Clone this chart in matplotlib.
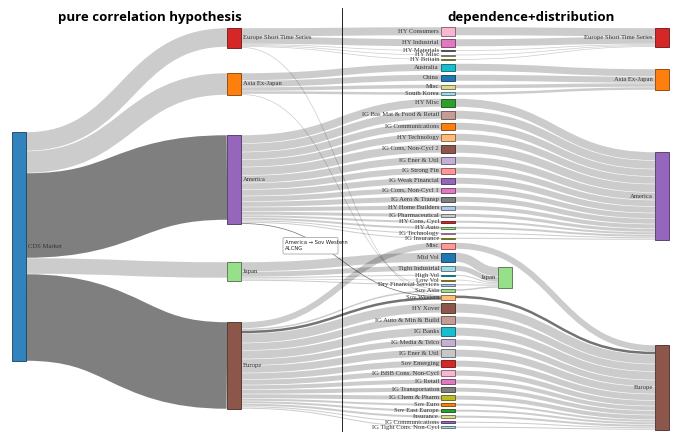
import numpy as np
import matplotlib
matplotlib.use("Agg")
import matplotlib.pyplot as plt
from matplotlib.path import Path
from matplotlib.patches import PathPatch, Rectangle, FancyBboxPatch
from matplotlib.colors import to_rgb

# ---- data ----
regions = ["Europe Short Time Series", "Asia Ex-Japan", "America", "Japan", "Europe"]
region_colors = ["#d62728", "#ff7f0e", "#9467bd", "#98df8a", "#8c564b"]
cds_values = [19, 22, 85, 16, 87]

mid_names = ["HY Consumers", "HY Industrial", "HY Materials", "HY Misc", "HY Britain",
             "Australia", "China", "Misc", "South Korea",
             "HY Misc", "IG Bas Mat & Food & Retail", "IG Communications", "HY Technology",
             "IG Cons, Non-Cycl 2", "IG Ener & Util", "IG Strong Fin", "IG Weak Financial",
             "IG Cons, Non-Cycl 1", "IG Aero & Transp", "HY Home Builders", "IG Pharmaceutical",
             "HY Cons, Cycl", "HY Auto", "IG Technology", "IG Insurance",
             "Misc", "Mid Vol", "Tight Industrial", "High Vol", "Low Vol",
             "Dry Financial Services", "Sov Asia", "Sov Western",
             "HY Xover", "IG Auto & Min & Build", "IG Banks", "IG Media & Telco", "IG Ener & Util",
             "Sov Emerging", "IG BBB Cons. Non-Cycl", "IG Retail", "IG Transportation",
             "IG Chem & Pharm", "Sov Euro", "Sov East Europe", "Insurance",
             "IG Communications", "IG Tight Cons. Non-Cycl"]
mid_values = [8.5, 7.5, 1, 1, 1,
              7.5, 6.5, 4, 3,
              8.5, 8.5, 7.5, 7.5, 8.5, 7.5, 6.5, 6.5, 5.5, 5.5, 4.5, 3.5, 2.5, 2.5, 1.5, 1.5,
              6.5, 9.5, 5.5, 1.5, 1, 1.5, 2, 3,
              9.5, 7.5, 8.5, 6.5, 7.5, 6.5, 5.5, 4.5, 4.5, 4.5, 2.5, 2.5, 2.5, 1.5, 1.5]
mid_colors = ["#f7b6d2", "#e377c2", "#7f7f7f", "#c7c7c7", "#bcbd22",
              "#17becf", "#1f77b4", "#dbdb8d", "#9edae5",
              "#2ca02c", "#c49c94", "#ff7f0e", "#ffbb78", "#8c564b", "#c5b0d5", "#ff9896",
              "#9467bd", "#e377c2", "#7f7f7f", "#aec7e8", "#c7c7c7", "#d62728", "#98df8a",
              "#f7b6d2", "#bcbd22",
              "#ff9896", "#1f77b4", "#9edae5", "#17becf", "#bcbd22", "#aec7e8", "#98df8a", "#ffbb78",
              "#8c564b", "#c49c94", "#17becf", "#c5b0d5", "#c7c7c7", "#d62728", "#f7b6d2",
              "#e377c2", "#7f7f7f", "#bcbd22", "#ff7f0e", "#2ca02c", "#dbdb8d", "#9467bd", "#9edae5"]
# left region (pure correlation) and right region (dependence+distribution) of each sector
mid_src = [0]*5 + [1]*4 + [2]*16 + [4] + [3]*5 + [4]*17
mid_dst = [0]*5 + [1]*4 + [2]*16 + [4] + [3]*6 + [4]*16
# minor cross flows: (left region, sector index, value)
cross_links = [(0, 32, 0.6), (1, 31, 0.8), (2, 32, 1.0)]
hot_links = [("L", 4, 32), ("L", 2, 32), ("R", 32, 4)]

# ---- layout (px) ----
W, H = 681, 432
nw = 14
x_cds, x_left, x_mid, x_japan, x_right = 12, 227, 441, 498, 655
cds_top = 132
left_tops = [28, 73, 135, 262, 322]
right_tops = [28, 69, 152, 267, 345]
mid_top, mid_pad = 27, 3.5

fig = plt.figure(figsize=(W / 100, H / 100), dpi=100)
ax = fig.add_axes([0, 0, 1, 1])
ax.set_xlim(0, W)
ax.set_ylim(H, 0)
ax.axis("off")

serif = "Liberation Serif"
fs = 4.8


def band(x0, y0, x1, y1, w, color, alpha, z=1):
    xm = (x0 + x1) / 2
    p = Path([(x0, y0), (xm, y0), (xm, y1), (x1, y1)],
             [Path.MOVETO, Path.CURVE4, Path.CURVE4, Path.CURVE4])
    ax.add_patch(PathPatch(p, fill=False, lw=max(w - 0.5, 0.7) * 0.72,
                           edgecolor=color, alpha=alpha, capstyle="butt", zorder=z))


# link list: (src_node, dst_node, value); node keys ("cds",0) ("L",i) ("M",i) ("R",i)
links = []
for i, v in enumerate(cds_values):
    links.append((("cds", 0), ("L", i), v))
for i, v in enumerate(mid_values):
    links.append((("L", mid_src[i]), ("M", i), v))
for (r, m, v) in cross_links:
    links.append((("L", r), ("M", m), v))
for i, v in enumerate(mid_values):
    links.append((("M", i), ("R", mid_dst[i]), v))

# node positions
node_x, node_y, node_h = {}, {}, {}
node_x[("cds", 0)] = x_cds
node_y[("cds", 0)] = cds_top
for i in range(5):
    node_x[("L", i)] = x_left
    node_y[("L", i)] = left_tops[i]
    node_x[("R", i)] = x_right if i != 3 else x_japan
    node_y[("R", i)] = right_tops[i]


def node_value(k):
    inn = sum(v for s, d, v in links if d == k)
    out = sum(v for s, d, v in links if s == k)
    return max(inn, out)


y = mid_top
for i in range(len(mid_names)):
    node_x[("M", i)] = x_mid
    node_y[("M", i)] = y
    node_h[("M", i)] = node_value(("M", i))
    y += node_h[("M", i)] + mid_pad
for k in node_x:
    if k[0] != "M":
        node_h[k] = node_value(k)

# stack links at both ends
sy, ty = {}, {}
for k in node_x:
    outs = sorted([l for l in links if l[0] == k], key=lambda l: node_y[l[1]])
    off = 0
    for l in outs:
        sy[l] = off
        off += l[2]
    ins = sorted([l for l in links if l[1] == k], key=lambda l: node_y[l[0]])
    off = 0
    for l in ins:
        ty[l] = off
        off += l[2]

hot = set()
for side, a, b in hot_links:
    if side == "L":
        hot.add((("L", a), ("M", b)))
    else:
        hot.add((("M", a), ("R", b)))

for l in links:
    s, d, v = l
    x0 = node_x[s] + nw
    x1 = node_x[d]
    y0 = node_y[s] + sy[l] + v / 2
    y1 = node_y[d] + ty[l] + v / 2
    if s == ("cds", 0) and d in (("L", 2), ("L", 4)):
        band(x0, y0, x1, y1, v, "black", 0.5, 1)
    elif (s, d) in hot:
        band(x0, y0, x1, y1, v, "black", 0.55, 2)
    else:
        band(x0, y0, x1, y1, v, "black", 0.2, 1)


def draw_node(k, color):
    r, g, b = to_rgb(color)
    edge = (r * 0.5, g * 0.5, b * 0.5)
    ax.add_patch(Rectangle((node_x[k], node_y[k]), nw, node_h[k], facecolor=color,
                           edgecolor=edge, lw=0.6, zorder=5))


draw_node(("cds", 0), "#3182bd")
ax.text(x_cds + nw + 2, node_y[("cds", 0)] + node_h[("cds", 0)] / 2, "CDS Market",
        fontsize=fs, family=serif, va="center", ha="left", color="#333333", zorder=6)
for i in range(5):
    draw_node(("L", i), region_colors[i])
    ax.text(x_left + nw + 2, node_y[("L", i)] + node_h[("L", i)] / 2, regions[i],
            fontsize=fs, family=serif, va="center", ha="left", color="#333333", zorder=6)
    draw_node(("R", i), region_colors[i])
    ax.text(node_x[("R", i)] - 2, node_y[("R", i)] + node_h[("R", i)] / 2, regions[i],
            fontsize=fs, family=serif, va="center", ha="right", color="#333333", zorder=6)
for i, name in enumerate(mid_names):
    draw_node(("M", i), mid_colors[i])
    ax.text(x_mid - 2, node_y[("M", i)] + node_h[("M", i)] / 2, name,
            fontsize=fs, family=serif, va="center", ha="right", color="#333333", zorder=6)

# divider and titles
ax.plot([342, 342], [8, H], color="black", lw=0.6, zorder=7)
ax.text(150, 18, "pure correlation hypothesis", fontsize=9.5, fontweight="bold",
        family="Open Sans", ha="center", va="center", zorder=7)
ax.text(531, 18, "dependence+distribution", fontsize=9.5, fontweight="bold",
        family="Open Sans", ha="center", va="center", zorder=7)

# tooltip
ax.add_patch(FancyBboxPatch((283, 237.5), 55, 16.5, boxstyle="round,pad=0,rounding_size=1.5",
                            facecolor="white", edgecolor="#aaaaaa", lw=0.6, zorder=8))
ax.text(285, 240, "America \u2192 Sov Western\nAI,CNG", fontsize=3.8, family="DejaVu Sans",
        ha="left", va="top", linespacing=1.3, color="#222222", zorder=9)

fig.savefig("out.png", dpi=100)
